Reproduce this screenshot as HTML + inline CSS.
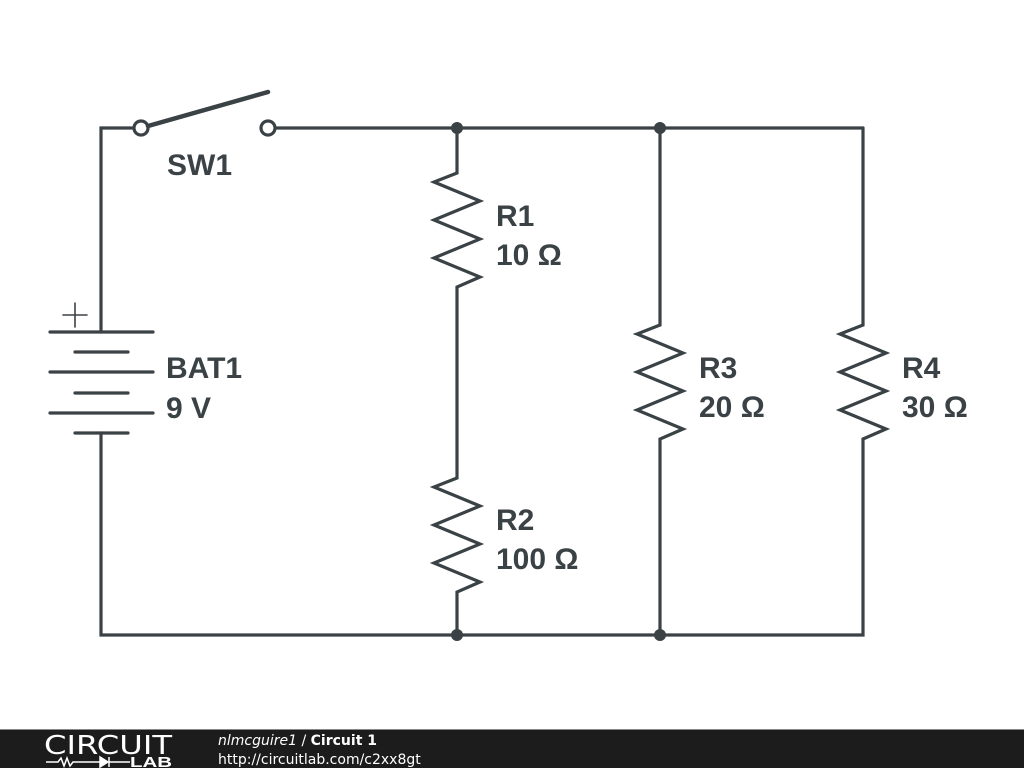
<!DOCTYPE html>
<html><head><meta charset="utf-8"><style>
html,body{margin:0;padding:0;background:#fff;width:1024px;height:768px;overflow:hidden}
svg{display:block}
</style></head><body>
<svg width="1024" height="768" viewBox="0 0 1024 768" xmlns="http://www.w3.org/2000/svg">
<g stroke="#3a4246" stroke-width="3.2" fill="none" stroke-linecap="round" stroke-linejoin="miter">
<polyline points="134,128 101,128 101,332"/>
<line x1="275" y1="128" x2="863" y2="128"/>
<circle cx="141" cy="128" r="7" fill="#fff"/>
<circle cx="268" cy="128" r="7" fill="#fff"/>
<line x1="148" y1="126" x2="268" y2="92" stroke-width="4.5"/>
<line x1="50" y1="332" x2="153" y2="332"/>
<line x1="75" y1="352" x2="128" y2="352"/>
<line x1="50" y1="372" x2="153" y2="372"/>
<line x1="75" y1="393" x2="128" y2="393"/>
<line x1="50" y1="413" x2="153" y2="413"/>
<line x1="75" y1="433" x2="128" y2="433"/>
<polyline points="101,433 101,635 863,635 863,439"/>
<g stroke-width="1.6"><line x1="63" y1="315" x2="87" y2="315"/><line x1="75" y1="303" x2="75" y2="327"/></g>
<polyline points="457,128 457,173 434,182 480,201 434,220 480,239 434,258 480,277 457,287 457,478 434,487 480,506 434,525 480,544 434,563 480,582 457,592 457,635"/>
<polyline points="660,128 660,325 637,334 683,353 637,372 683,391 637,410 683,429 660,439 660,635"/>
<polyline points="863,128 863,325 840,334 886,353 840,372 886,391 840,410 886,429 863,439"/>
</g>
<g fill="#3a4246">
<circle cx="457" cy="128" r="6"/><circle cx="660" cy="128" r="6"/>
<circle cx="457" cy="635" r="6"/><circle cx="660" cy="635" r="6"/>
</g>
<g fill="#3a4246" font-family="'Liberation Sans',sans-serif" font-weight="bold" font-size="30">
<text x="167" y="175">SW1</text>
<text x="166" y="378">BAT1</text>
<text x="166" y="418">9 V</text>
<text x="496" y="226">R1</text>
<text x="496" y="265">10 Ω</text>
<text x="496" y="530">R2</text>
<text x="496" y="569">100 Ω</text>
<text x="699" y="378">R3</text>
<text x="699" y="417">20 Ω</text>
<text x="902" y="378">R4</text>
<text x="902" y="417">30 Ω</text>
</g>
<rect x="0" y="729" width="1024" height="39" fill="#1c1c1c"/>
<line x1="0" y1="729.5" x2="1024" y2="729.5" stroke="#888" stroke-width="1"/>
<text x="44" y="754" fill="#fff" font-family="'DejaVu Sans',sans-serif" font-size="26" font-weight="normal" textLength="128" lengthAdjust="spacingAndGlyphs">CIRCUIT</text>
<g stroke="#fff" stroke-width="1.5" fill="none">
<polyline points="46,762 58,762 61,758 64,766 67,758 70,766 73,762 100,762"/>
<polygon points="100,757 100,767 108,762" fill="#fff"/>
<line x1="109" y1="757" x2="109" y2="767"/>
<line x1="109" y1="762" x2="130" y2="762"/>
</g>
<text x="130" y="767" fill="#fff" font-family="'Liberation Sans',sans-serif" font-size="15" font-weight="bold" textLength="42" lengthAdjust="spacingAndGlyphs">LAB</text>
<text x="218" y="745" fill="#fff" font-family="'DejaVu Sans',sans-serif" font-size="14"><tspan font-style="italic">nlmcguire1</tspan> / <tspan font-weight="bold">Circuit 1</tspan></text>
<text x="218" y="764" fill="#fff" font-family="'DejaVu Sans',sans-serif" font-size="14">http://circuitlab.com/c2xx8gt</text>
</svg>
</body></html>
